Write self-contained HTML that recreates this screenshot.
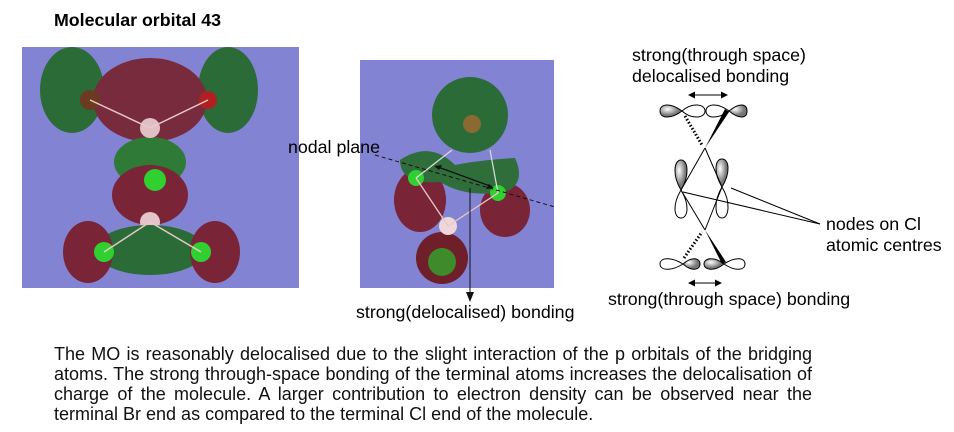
<!DOCTYPE html>
<html><head><style>
body{margin:0;background:#fff;width:954px;height:432px;overflow:hidden;font-family:"Liberation Sans",Arial,sans-serif}
svg{position:absolute;left:0;top:0}
.p{position:absolute;left:54px;top:344px;width:758px;font-size:18px;line-height:20px;color:#111}
.p div{text-align:justify;text-align-last:justify;white-space:nowrap}
.p div.l{text-align-last:left}
</style></head><body>
<svg width="954" height="432" font-family="Liberation Sans, Arial, sans-serif">
<defs>
<radialGradient id="gr" cx="35%" cy="35%"><stop offset="0" stop-color="#fff"/><stop offset="1" stop-color="#777"/></radialGradient>
</defs>
<text x="54" y="26" font-size="17.8" font-weight="bold">Molecular orbital 43</text>
<rect x="22" y="47" width="277" height="241" fill="#8383d3"/>
<ellipse cx="72" cy="90" rx="32" ry="43" fill="#2b6b37"/>
<ellipse cx="228" cy="90" rx="30" ry="43" fill="#2b6b37"/>
<ellipse cx="150" cy="100" rx="57" ry="42" fill="#792b3e"/>
<circle cx="90" cy="100" r="10" fill="#6b3a20"/>
<circle cx="208" cy="100" r="9" fill="#b02020"/>
<ellipse cx="150" cy="162" rx="36" ry="25" fill="#2e7a36"/>
<ellipse cx="150" cy="195" rx="38" ry="30" fill="#7a2438"/>
<circle cx="155" cy="180" r="11" fill="#2fd02f"/>
<circle cx="150" cy="222" r="10" fill="#e4c4c8"/>
<circle cx="150" cy="128" r="10" fill="#e0c0c4"/>
<ellipse cx="150" cy="250" rx="55" ry="25" fill="#2b6b37"/>
<ellipse cx="88" cy="252" rx="25" ry="31" fill="#7a2438"/>
<ellipse cx="215" cy="252" rx="25" ry="31" fill="#7a2438"/>
<circle cx="104" cy="252" r="10" fill="#2fd02f"/>
<circle cx="201" cy="252" r="10" fill="#2fd02f"/>
<line x1="90" y1="100" x2="150" y2="128" stroke="#e8c8c8" stroke-width="1.5"/>
<line x1="208" y1="100" x2="150" y2="128" stroke="#e8c8c8" stroke-width="1.5"/>
<line x1="104" y1="252" x2="150" y2="222" stroke="#e8c8c8" stroke-width="1.5"/>
<line x1="201" y1="252" x2="150" y2="222" stroke="#e8c8c8" stroke-width="1.5"/>
<rect x="360" y="60" width="194" height="228" fill="#8383d3"/>
<circle cx="470" cy="115" r="38" fill="#2b6b37"/>
<circle cx="472" cy="124" r="9" fill="#8a6a30"/>
<ellipse cx="420" cy="200" rx="26" ry="32" fill="#7a2438"/>
<ellipse cx="505" cy="210" rx="25" ry="27" fill="#7a2438"/>
<path d="M400,160 Q430,140 455,165 Q480,160 515,158 Q525,180 510,190 Q470,200 440,182 Q400,185 400,160Z" fill="#2f6d3b"/>
<circle cx="416" cy="178" r="8" fill="#2fd02f"/>
<circle cx="498" cy="193" r="8" fill="#2fd02f"/>
<circle cx="442" cy="258" r="26" fill="#6e1f2a"/>
<circle cx="442" cy="262" r="14" fill="#3f8a2a"/>
<circle cx="448" cy="226" r="9" fill="#efd6d8"/>
<line x1="416" y1="178" x2="448" y2="226" stroke="#e8c8c8" stroke-width="1.3"/>
<line x1="498" y1="193" x2="448" y2="226" stroke="#e8c8c8" stroke-width="1.3"/>
<line x1="416" y1="178" x2="452" y2="150" stroke="#ddd" stroke-width="1.2"/>
<line x1="498" y1="193" x2="490" y2="150" stroke="#ddd" stroke-width="1.2"/>
<line x1="375" y1="155" x2="555" y2="207" stroke="#111" stroke-dasharray="4,3"/>
<line x1="438" y1="167" x2="490" y2="186" stroke="#111" stroke-width="1.2"/>
<path d="M434,166 l8,-1 l-3,5z M494,188 l-8,1 l3,-5z" fill="#111"/>
<line x1="470" y1="188" x2="470" y2="296" stroke="#111" stroke-width="1"/>
<path d="M466,292 L470,302 L474,292Z" fill="#111"/>
<text x="288" y="153" font-size="17.8">nodal plane</text>
<text x="356" y="318" font-size="17.8">strong(delocalised) bonding</text>
<text x="632" y="61" font-size="17.8">strong(through space)</text>
<text x="632" y="82" font-size="17.8">delocalised bonding</text>
<line x1="692" y1="95" x2="724" y2="95" stroke="#000"/>
<path d="M688,95 l7,-3.5 v7z M728,95 l-7,-3.5 v7z" fill="#000"/>
<g stroke="#000" stroke-width="1">
<path d="M682,111 C670,102 660,104 660,111 C660,118 670,120 682,111Z" fill="url(#gr)"/>
<path d="M682,111 C692,102 705,104 705,111 C705,118 692,120 682,111Z" fill="#fff"/>
<path d="M729,111 C717,102 706,104 706,111 C706,118 717,120 729,111Z" fill="#fff"/>
<path d="M729,111 C740,102 747,104 747,111 C747,118 740,120 729,111Z" fill="url(#gr)"/>
<path d="M681,190 C672,175 674,160 681,160 C688,160 690,175 681,190Z" fill="url(#gr)"/>
<path d="M681,190 C672,205 674,218 681,218 C688,218 690,205 681,190Z" fill="#fff"/>
<path d="M722,187 C713,172 715,159 722,159 C729,159 731,172 722,187Z" fill="url(#gr)"/>
<path d="M722,187 C713,202 715,218 722,218 C729,218 731,202 722,187Z" fill="#fff"/>
<path d="M683,264 C670,256 660,258 660,264 C660,270 670,272 683,264Z" fill="#fff"/>
<path d="M683,264 C692,256 700,258 700,264 C700,270 692,272 683,264Z" fill="url(#gr)"/>
<path d="M724,264 C714,256 704,258 704,264 C704,270 714,272 724,264Z" fill="url(#gr)"/>
<path d="M724,264 C736,256 745,258 745,264 C745,270 736,272 724,264Z" fill="#fff"/>
<line x1="705" y1="148" x2="681" y2="190"/>
<line x1="705" y1="148" x2="722" y2="187"/>
<line x1="681" y1="190" x2="705" y2="230"/>
<line x1="722" y1="187" x2="705" y2="230"/>
<line x1="683" y1="192" x2="820" y2="224"/>
<line x1="731" y1="188" x2="820" y2="224"/>
<line x1="685" y1="116" x2="702" y2="145" stroke-dasharray="1.5,2" stroke-width="3"/>
<line x1="684" y1="258" x2="702" y2="232" stroke-dasharray="1.5,2" stroke-width="3"/>
</g>
<path d="M705,148 L725,109 L729,112Z" fill="#000"/>
<path d="M705,230 L722,264 L726,262Z" fill="#000"/>
<text x="826" y="230" font-size="17.8">nodes on Cl</text>
<text x="826" y="251" font-size="17.8">atomic centres</text>
<line x1="694" y1="283" x2="716" y2="283" stroke="#000"/>
<path d="M688,283 l7,-3.5 v7z M722,283 l-7,-3.5 v7z" fill="#000"/>
<text x="608" y="305" font-size="17.8">strong(through space) bonding</text>
</svg>
<div class="p">
<div>The MO is reasonably delocalised due to the slight interaction of the p orbitals of the bridging</div>
<div>atoms. The strong through-space bonding of the terminal atoms increases the delocalisation of</div>
<div>charge of the molecule. A larger contribution to electron density can be observed near the</div>
<div class="l">terminal Br end as compared to the terminal Cl end of the molecule.</div>
</div>
</body></html>
